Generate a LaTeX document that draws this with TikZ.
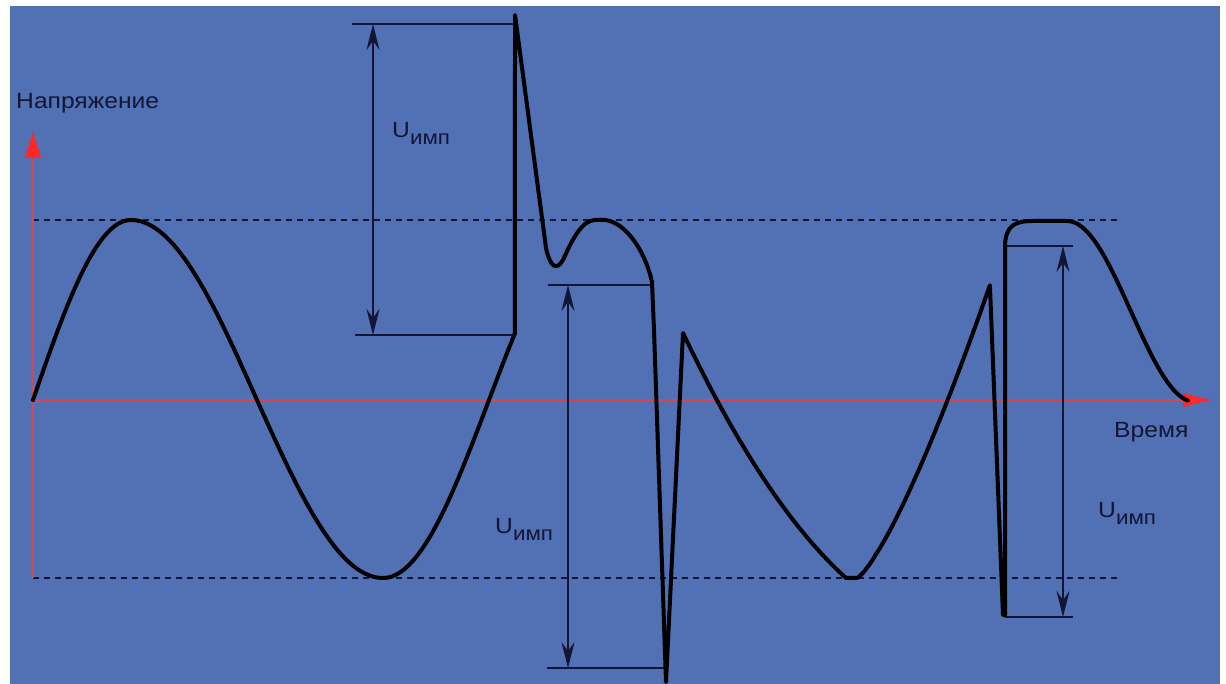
\documentclass[tikz,border=0pt]{standalone}
\usepackage{fontspec}
\setmainfont{Liberation Sans}
\usetikzlibrary{arrows.meta}
\definecolor{bg}{RGB}{82,112,180}
\definecolor{ink}{RGB}{18,22,52}
\definecolor{axisred}{RGB}{214,70,84}
\definecolor{tipred}{RGB}{255,40,40}
\begin{document}
\begin{tikzpicture}[x=1pt,y=-1pt,
  wave/.style={line width=4pt, line join=round, line cap=round, black},
  dimline/.style={line width=1.8pt, ink},
  dimarrow/.style={line width=1.6pt, ink, {Stealth[length=26pt,width=13pt,inset=9pt]}-{Stealth[length=26pt,width=13pt,inset=9pt]}},
  guide/.style={line width=1.8pt, ink, dash pattern=on 6pt off 5pt},
  axis/.style={line width=2pt, axisred},
  lbl/.style={text=ink, inner sep=0pt, xscale=1.12, font=\fontsize{22}{24}\selectfont}]
\fill[white] (0,0) rectangle (1226,684);
\fill[bg] (10,6) rectangle (1220,684);
\useasboundingbox (0,0) rectangle (1226,684);

% coordinates
\coordinate (O) at (33,400);
\coordinate (Ytop) at (33,132);
\coordinate (Ybot) at (33,578);
\coordinate (Xend) at (1213,400);
\coordinate (UL) at (33,220);
\coordinate (UR) at (1120,220);
\coordinate (LL) at (33,578);
\coordinate (LR) at (1120,578);

% guides
\draw[guide] (UL) -- (UR);
\draw[guide] (LL) -- (LR);

% axes
\draw[axis, -{Triangle[length=26pt,width=16pt,color=tipred]}] (Ybot) -- (Ytop);
\draw[axis, -{Latex[length=30pt,width=15pt,color=tipred]}] (O) -- (Xend);

% dimension 1
\coordinate (d1tl) at (352,24);  \coordinate (d1tr) at (515,24);
\coordinate (d1bl) at (355,335); \coordinate (d1br) at (515,335);
\coordinate (d1a) at (373,24);   \coordinate (d1b) at (373,335);
\draw[dimline] (d1tl) -- (d1tr);
\draw[dimline] (d1bl) -- (d1br);
\draw[dimarrow] (d1a) -- (d1b);

% dimension 2
\coordinate (d2tl) at (548,285); \coordinate (d2tr) at (652,285);
\coordinate (d2bl) at (547,668); \coordinate (d2br) at (666,668);
\coordinate (d2a) at (568,285);  \coordinate (d2b) at (568,668);
\draw[dimline] (d2tl) -- (d2tr);
\draw[dimline] (d2bl) -- (d2br);
\draw[dimarrow] (d2a) -- (d2b);

% dimension 3
\coordinate (d3tl) at (1005,246); \coordinate (d3tr) at (1073,246);
\coordinate (d3bl) at (1005,617); \coordinate (d3br) at (1073,617);
\coordinate (d3a) at (1063,246);  \coordinate (d3b) at (1063,617);
\draw[dimline] (d3tl) -- (d3tr);
\draw[dimline] (d3bl) -- (d3br);
\draw[dimarrow] (d3a) -- (d3b);

% waveform
\draw[wave] plot[domain=0:1,samples=50] ({33+98*\x},{400-180*sin(90*\x)})
  -- plot[domain=0:1,samples=50] ({131+126*\x},{400-180*cos(90*\x)})
  -- plot[domain=0:1,samples=50] ({257+126*\x},{400+178*sin(90*\x)})
  -- plot[domain=0:1.245,samples=50] ({383+106*\x},{400+178*cos(90*\x)})
  -- (515,15) -- (519,45) -- (546,248)
  .. controls (550,266) and (556,272) .. (563,260)
  .. controls (572,240) and (582,220) .. (595,220) -- (605,220)
  .. controls (625,222) and (645,250) .. (652,282)
  -- (654,330) -- (666,682) -- (683,333)
  -- plot[domain=0:1,samples=60] ({683+163*\x},{333+245*(1.4*\x-0.4*\x*\x)})
  -- (857,578)
  -- plot[domain=0:1,samples=60] ({857+133*\x},{578-293*(\x^1.3)})
  -- (1003,615) -- (1005,615) -- (1005,245)
  .. controls (1006,226) and (1014,221) .. (1033,221) -- (1067,221)
  -- plot[domain=0:0.945,samples=60] ({1067+128*\x},{221+90.5*(1-cos(180*\x))});

% labels
\node[lbl, anchor=west] (ylab) at (16,103) {Напряжение};
\node[lbl, anchor=west] (xlab) at (1114,432) {Время};
\node[lbl, anchor=base west] (u1) at (392,138) {U\raisebox{-7pt}{\fontsize{20}{22}\selectfont имп}};
\node[lbl, anchor=base west] (u2) at (495,533) {U\raisebox{-7pt}{\fontsize{20}{22}\selectfont имп}};
\node[lbl, anchor=base west] (u3) at (1098,517) {U\raisebox{-7pt}{\fontsize{20}{22}\selectfont имп}};
\end{tikzpicture}
\end{document}
